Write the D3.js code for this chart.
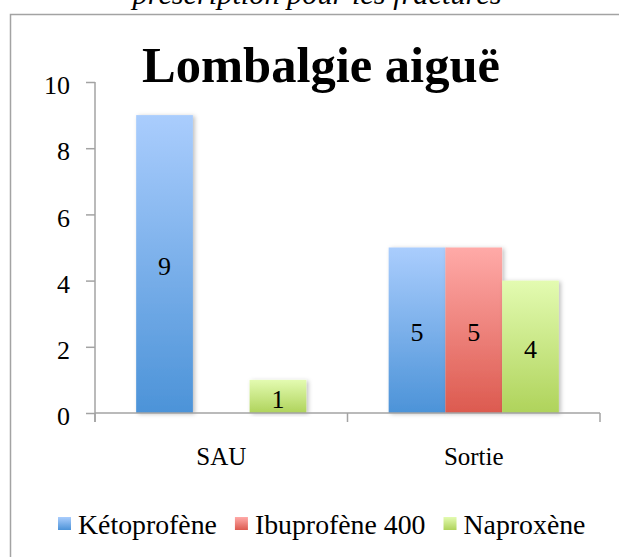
<!DOCTYPE html>
<html>
<head>
<meta charset="utf-8">
<script src="https://cdn.jsdelivr.net/npm/d3@7"></script>
<style>
    body { margin: 0; background: #fff; overflow: hidden; }
    svg text { font-family: "Liberation Serif", "DejaVu Serif", "Noto Serif", serif; }
</style>
</head>
<body>
<svg id="chart" width="619" height="557"></svg>
<script>
const categories = ["SAU", "Sortie"];
const seriesNames = ["Kétoprofène", "Ibuprofène 400", "Naproxène"];
const ketoprofene = [9, 5];
const ibuprofene = [0, 5];
const naproxene = [1, 4];
const yTicks = [0, 2, 4, 6, 8, 10];
const title = "Lombalgie aiguë";
const caption = "prescription pour les fractures";

const seriesValues = [ketoprofene, ibuprofene, naproxene];
const colors = [
    { top: "#aacdfd", bottom: "#4c93d8" },
    { top: "#ffaaa8", bottom: "#dc5a4f" },
    { top: "#e3fbb1", bottom: "#afd35b" }
];

const fontFamily = "'Liberation Serif', 'DejaVu Serif', serif";
const svg = d3.select("#chart");
const axisColor = "#a3a3a3";

// gradients + shadow
const defs = svg.append("defs");
colors.forEach((c, i) => {
    const g = defs.append("linearGradient")
        .attr("id", "grad" + i)
        .attr("x1", 0).attr("y1", 0).attr("x2", 0).attr("y2", 1);
    g.append("stop").attr("offset", "0%").attr("stop-color", c.top);
    g.append("stop").attr("offset", "100%").attr("stop-color", c.bottom);
});
const shadow = defs.append("filter").attr("id", "shadow")
    .attr("x", "-20%").attr("y", "-10%").attr("width", "140%").attr("height", "120%");
shadow.append("feDropShadow")
    .attr("dx", 2).attr("dy", 1).attr("stdDeviation", 2)
    .attr("flood-color", "#000").attr("flood-opacity", 0.25);

// outer chart border (runs off the page at right and bottom)
svg.append("path")
    .attr("d", "M10.5,600 V14.5 H640")
    .attr("fill", "none")
    .attr("stroke", axisColor)
    .attr("stroke-width", 1.5);

// helper: set font size so text fits a target width
function fitText(sel, targetWidth) {
    const node = sel.node();
    const fs = parseFloat(sel.attr("font-size"));
    const w = node.getComputedTextLength();
    sel.attr("font-size", (fs * targetWidth / w).toFixed(2));
}

// caption, cut off at the top
const cap = svg.append("text")
    .attr("x", 317).attr("y", 4)
    .attr("text-anchor", "middle")
    .attr("font-family", fontFamily)
    .attr("font-style", "italic")
    .attr("font-size", 24)
    .text(caption);
fitText(cap, 369);

// title
const t = svg.append("text")
    .attr("x", 142).attr("y", 82)
    .attr("font-family", fontFamily)
    .attr("font-weight", "bold")
    .attr("font-size", 48)
    .text(title);
fitText(t, 358);

const margin = { left: 95, right: 600, top: 82, bottom: 413 };

const y = d3.scaleLinear().domain([0, 10]).range([margin.bottom, margin.top]);
const x0 = d3.scaleBand().domain(categories)
    .range([margin.left, margin.right])
    .paddingInner(0.326).paddingOuter(0.163);
const x1 = d3.scaleBand().domain(d3.range(seriesNames.length))
    .range([0, x0.bandwidth()]);

// bars
const rows = [];
categories.forEach((cat, ci) => {
    seriesValues.forEach((vals, si) => {
        rows.push({ cat: cat, s: si, v: vals[ci] });
    });
});

const bars = svg.append("g");
bars.selectAll("rect")
    .data(rows.filter(d => d.v > 0))
    .enter().append("rect")
    .attr("x", d => x0(d.cat) + x1(d.s))
    .attr("y", d => y(d.v))
    .attr("width", x1.bandwidth())
    .attr("height", d => y(0) - y(d.v))
    .attr("fill", d => "url(#grad" + d.s + ")")
    .attr("filter", "url(#shadow)");

// y axis
const yAxis = svg.append("g")
    .attr("transform", `translate(${margin.left},0)`)
    .call(d3.axisLeft(y).tickValues(yTicks).tickSize(9).tickPadding(16).tickFormat(d3.format("d")));
yAxis.attr("font-family", fontFamily);
yAxis.select(".domain").remove();
yAxis.append("line")
    .attr("x1", 0).attr("x2", 0)
    .attr("y1", margin.top).attr("y2", margin.bottom + 9)
    .attr("stroke", axisColor).attr("stroke-width", 1.5);
yAxis.selectAll(".tick line").attr("stroke", axisColor).attr("stroke-width", 1.5);
yAxis.selectAll(".tick text")
    .attr("fill", "#000")
    .attr("font-size", 26)
    .attr("font-family", fontFamily)
    .attr("dy", "0.45em");

// x axis
const xAxis = svg.append("g").attr("transform", `translate(0,${margin.bottom})`);
xAxis.append("line")
    .attr("x1", margin.left).attr("x2", margin.right)
    .attr("stroke", axisColor).attr("stroke-width", 1.5);
const bounds = [margin.left].concat(categories.map(c => x0(c) + x0.bandwidth() / 2 + x0.step() / 2));
xAxis.selectAll(".xtick")
    .data(bounds)
    .enter().append("line")
    .attr("x1", d => d).attr("x2", d => d)
    .attr("y1", 0).attr("y2", 9)
    .attr("stroke", axisColor).attr("stroke-width", 1.5);
xAxis.selectAll(".xlabel")
    .data(categories)
    .enter().append("text")
    .attr("x", d => x0(d) + x0.bandwidth() / 2)
    .attr("y", 52)
    .attr("text-anchor", "middle")
    .attr("font-family", fontFamily)
    .attr("font-size", 25)
    .text(d => d);

// bar value labels
svg.append("g").selectAll("text")
    .data(rows.filter(d => d.v > 0))
    .enter().append("text")
    .attr("x", d => x0(d.cat) + x1(d.s) + x1.bandwidth() / 2)
    .attr("y", d => (y(d.v) + y(0)) / 2 + 2)
    .attr("dy", "0.35em")
    .attr("text-anchor", "middle")
    .attr("font-family", fontFamily)
    .attr("font-size", 26)
    .text(d => d.v);

// legend
const legend = svg.append("g");
let lx = 58;
const ly = 524;
let legendFont = 24;
seriesNames.forEach((name, i) => {
    const item = legend.append("g");
    item.append("rect")
        .attr("x", lx).attr("y", ly - 7)
        .attr("width", 13).attr("height", 13)
        .attr("fill", "url(#grad" + i + ")");
    const txt = item.append("text")
        .attr("x", lx + 20).attr("y", ly)
        .attr("dy", "0.35em")
        .attr("font-family", fontFamily)
        .attr("font-size", legendFont)
        .text(name);
    if (i === 0) {
        fitText(txt, 139);
        legendFont = parseFloat(txt.attr("font-size"));
    }
    lx += 20 + txt.node().getComputedTextLength() + 18;
});
</script>
</body>
</html>
